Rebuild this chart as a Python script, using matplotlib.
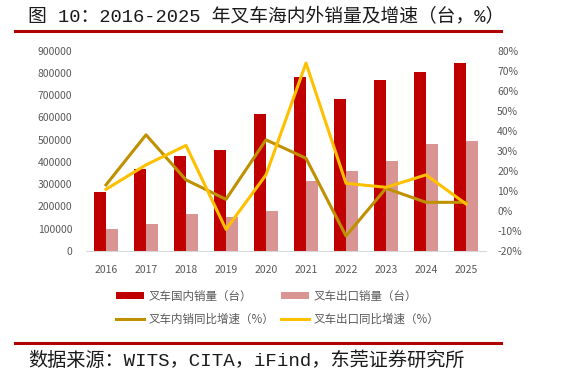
import matplotlib
matplotlib.use("Agg")
import matplotlib.pyplot as plt
import numpy as np
from matplotlib.lines import Line2D
from matplotlib.ticker import FuncFormatter

plt.rcParams['font.family'] = ['Noto Sans CJK SC', 'DejaVu Sans']

years = ['2016', '2017', '2018', '2019', '2020', '2021', '2022', '2023', '2024', '2025']
domestic = [264000, 367000, 428000, 452000, 617000, 783000, 683000, 768000, 806000, 843000]
export = [99000, 123000, 166000, 151000, 180000, 316000, 358000, 406000, 481000, 494000]
domestic_growth = [13.0, 38.0, 15.5, 5.8, 35.5, 26.3, -12.5, 11.3, 4.3, 4.3]
export_growth = [10.8, 23.0, 32.7, -9.2, 18.0, 73.8, 13.8, 11.8, 18.0, 3.5]

c_dom = '#C00000'
c_exp = '#D99594'
c_domg = '#BF9000'
c_expg = '#FFC000'
gray = '#595959'

fig = plt.figure(figsize=(5.67, 3.84), dpi=100)
ax = fig.add_axes([86/567, 1-251/384, 400/567, (251-50.7)/384])
x = np.arange(len(years))
w = 0.29
ax.bar(x - w/2, domestic, width=w, color=c_dom, label='叉车国内销量（台）', zorder=2)
ax.bar(x + w/2, export, width=w, color=c_exp, label='叉车出口销量（台）', zorder=2)
ax.set_xlim(-0.5, len(years)-0.5)
ax.set_ylim(0, 900000)
ax.set_yticks(np.arange(0, 900001, 100000))
ax.yaxis.set_major_formatter(FuncFormatter(lambda v, p: f'{int(v)}'))
ax.set_xticks(x)
ax.set_xticklabels(years)
for s in ['top', 'right', 'left']:
    ax.spines[s].set_visible(False)
ax.spines['bottom'].set_color('#D9D9D9')
ax.tick_params(axis='both', colors=gray, labelsize=7.5, length=0)
ax.tick_params(axis='x', pad=10)
ax.tick_params(axis='y', pad=10)

ax2 = ax.twinx()
ax2.plot(x, domestic_growth, color=c_domg, lw=2.2, label='叉车内销同比增速（%）', zorder=3)
ax2.plot(x, export_growth, color=c_expg, lw=2.2, label='叉车出口同比增速（%）', zorder=3)
ax2.set_ylim(-20, 80)
ax2.set_yticks(np.arange(-20, 81, 10))
ax2.yaxis.set_major_formatter(FuncFormatter(lambda v, p: f'{int(v)}%'))
for s in ['top', 'right', 'left', 'bottom']:
    ax2.spines[s].set_visible(False)
ax2.tick_params(axis='y', colors=gray, labelsize=7.5, length=0, pad=8)

h1, l1 = ax.get_legend_handles_labels()
h2, l2 = ax2.get_legend_handles_labels()
handles = [h1[0], h2[0], h1[1], h2[1]]
labels = [l1[0], l2[0], l1[1], l2[1]]
leg = fig.legend(handles, labels, ncol=2, loc='center left',
                 bbox_to_anchor=(106/567, 1-308/384), frameon=False,
                 fontsize=8.3, labelcolor=gray, handlelength=2.4, handleheight=0.6,
                 columnspacing=0.6, handletextpad=0.4, labelspacing=0.9)

mixed = ['Liberation Mono', 'Noto Sans CJK SC']
fig.text(28/567, 1-17/384, '图 10：2016-2025 年叉车海内外销量及增速（台，%）',
         fontsize=13.5, va='center', ha='left', color='#1a1a1a', family=mixed)
fig.add_artist(Line2D([15/567, 501/567], [1-31/384, 1-31/384], color='#B00000', lw=2.2))
fig.add_artist(Line2D([15/567, 501/567], [1-343/384, 1-343/384], color='#B00000', lw=2.2))
fig.text(28/567, 1-361/384, '数据来源：WITS，CITA，iFind，东莞证券研究所',
         fontsize=13.8, va='center', ha='left', color='#1a1a1a', family=mixed)

fig.savefig('out.png', dpi=100)
